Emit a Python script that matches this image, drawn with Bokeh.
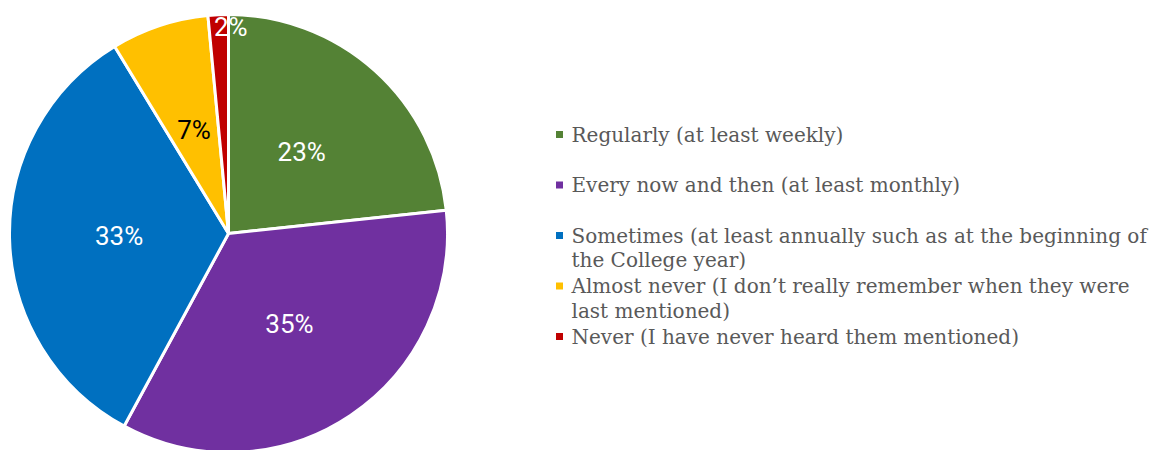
import math
import textwrap
from bokeh.plotting import figure
from bokeh.models import Range1d, ColumnDataSource
from bokeh.core.properties import value
from bokeh.embed import file_html
from bokeh.resources import INLINE

# ---- data ----
categories = [
    "Regularly (at least weekly)",
    "Every now and then (at least monthly)",
    "Sometimes (at least annually such as at the beginning of the College year)",
    "Almost never (I don\u2019t really remember when they were last mentioned)",
    "Never (I have never heard them mentioned)",
]
shares = [23.3, 34.6, 33.4, 7.2, 1.5]
share_labels = ["23%", "35%", "33%", "7%", "2%"]
colors = ["#548235", "#7030A0", "#0070C0", "#FFC000", "#C00000"]
label_colors = ["#FFFFFF", "#FFFFFF", "#FFFFFF", "#000000", "#FFFFFF"]

# ---- layout (page pixel coordinates) ----
W, H = 1168, 450
def py(y):  # page y -> data y
    return H - y

CX, CY, R = 228, py(233), 219

p = figure(width=W, height=H, output_backend="svg", toolbar_location=None,
           x_range=Range1d(0, W), y_range=Range1d(0, H),
           x_axis_type=None, y_axis_type=None, min_border=0)
p.grid.visible = False
p.outline_line_color = None
p.background_fill_color = "white"

total = sum(shares)
starts, ends, mids = [], [], []
cum = 0.0
for s in shares:
    a0 = math.radians(90 - cum / total * 360)
    cum += s
    a1 = math.radians(90 - cum / total * 360)
    starts.append(a1)
    ends.append(a0)
    mids.append((a0 + a1) / 2)

src = ColumnDataSource(dict(x=[CX] * len(shares), y=[CY] * len(shares),
                            start=starts, end=ends, color=colors))
p.wedge(x="x", y="y", radius=R, start_angle="start", end_angle="end",
        fill_color="color", line_color="white", line_width=3, source=src)

# data labels
lx, ly, xoff = [], [], []
for s, m in zip(shares, mids):
    small = s / total < 0.03
    rr = R * (0.945 if small else 0.5)
    lx.append(CX + rr * math.cos(m))
    ly.append(CY + rr * math.sin(m))
    xoff.append(12 if small else 0)
lsrc = ColumnDataSource(dict(x=lx, y=ly, t=share_labels, c=label_colors, xo=xoff))
p.text(x="x", y="y", text="t", text_color="c", x_offset="xo", source=lsrc,
       text_align="center", text_baseline="middle",
       text_font=value("Roboto"), text_font_size="26px")

# legend
mx, my, mc = [], [], []
tx, ty, tt = [], [], []
for i, (cat, col) in enumerate(zip(categories, colors)):
    y0 = 134 + 50.5 * i
    mx.append(559); my.append(py(y0)); mc.append(col)
    for k, line in enumerate(textwrap.wrap(cat, 56)):
        tx.append(571); ty.append(py(y0 + 24.5 * k)); tt.append(line)
p.rect(x=mx, y=my, width=7, height=7, fill_color=mc, line_color=None)
p.text(x=tx, y=ty, text=tt, text_color="#595959", text_align="left",
       text_baseline="middle", text_font=value("DejaVu Serif"),
       text_font_size="20px")

open("out.html", "w").write(file_html(p, INLINE))
